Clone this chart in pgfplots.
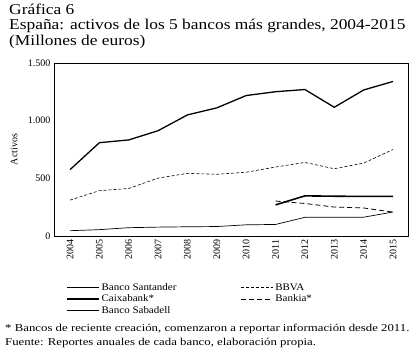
\documentclass[border=0pt]{standalone}
\usepackage{fontspec}
\setmainfont{Liberation Serif}
\usepackage{graphicx}
\usepackage{pgfplots}
\pgfplotsset{compat=1.18}
\newcommand{\legtxt}[1]{\scalebox{1.1}[1]{#1}}
\begin{document}
\begin{tikzpicture}[x=1pt,y=1pt]
\begin{axis}[
  name=ax,
  at={(0pt,0pt)}, anchor=south west,
  scale only axis,
  width=354pt, height=173pt,
  xmin=2003.455, xmax=2015.51,
  ymin=0, ymax=1500,
  xtick={2004,...,2015},
  ytick={0,500,1000,1500},
  tick style={draw=none},
  /pgf/number format/assume math mode=true,
  yticklabel style={/pgf/number format/.cd,1000 sep={.}},
  xticklabel style={rotate=90, anchor=east, /pgf/number format/.cd,1000 sep={}},
  tick label style={font=\fontsize{10}{12}\selectfont},
  ylabel={Activos},
  ylabel style={at={(axis description cs:-0.113,0.5)}, anchor=center, font=\fontsize{10}{12}\selectfont},
  axis line style={line width=0.8pt},
  legend columns=2,
  legend style={at={(axis description cs:0.025,-0.25)}, anchor=north west, draw=none, fill=none,
    font=\fontsize{10}{12}\selectfont, row sep=-1pt,
    /tikz/every even column/.append style={column sep=62pt}},
  legend cell align=left,
  legend image code/.code={\draw[#1] (0pt,0pt) -- (32pt,0pt);},
]
\addplot[black, line width=1.3pt] coordinates {
(2004,575) (2005,809) (2006,833) (2007,913) (2008,1050) (2009,1111)
(2010,1218) (2011,1251) (2012,1270) (2013,1116) (2014,1266) (2015,1340)};
\addlegendentry{\legtxt{Banco Santander}}
\addplot[black, line width=0.6pt, dash pattern=on 3pt off 2pt] coordinates {
(2004,311) (2005,393) (2006,412) (2007,502) (2008,543) (2009,535)
(2010,553) (2011,598) (2012,638) (2013,583) (2014,632) (2015,750)};
\addlegendentry{\legtxt{BBVA}}
\addplot[black, line width=1.6pt] coordinates {
(2011,270) (2012,348) (2013,345) (2014,343) (2015,344)};
\addlegendentry{\legtxt{Caixabank*}}
\addplot[black, line width=0.8pt, dash pattern=on 5pt off 3pt] coordinates {
(2011,303) (2012,282) (2013,251) (2014,243) (2015,207)};
\addlegendentry{\legtxt{Bankia*}}
\addplot[black, line width=0.7pt] coordinates {
(2004,46) (2005,55) (2006,72) (2007,77) (2008,80) (2009,82)
(2010,97) (2011,100) (2012,162) (2013,163) (2014,163) (2015,208)};
\addlegendentry{\legtxt{Banco Sabadell}}
\end{axis}
\node[anchor=north west, inner sep=0pt, font=\fontsize{15}{15.5}\selectfont] at (-45pt,233pt)
 {\scalebox{1.16}[1]{\begin{tabular}{@{}l@{}}Gráfica 6\\España: activos de los 5 bancos más grandes, 2004-2015\\(Millones de euros)\end{tabular}}};
\node[anchor=south west, inner sep=0pt, font=\fontsize{10.5}{14}\selectfont] at (-49pt,-114pt)
 {\scalebox{1.22}[1]{\begin{tabular}{@{}l@{}}* Bancos de reciente creación, comenzaron a reportar información desde 2011.\\Fuente: Reportes anuales de cada banco, elaboración propia.\end{tabular}}};
\pgfresetboundingbox
\path[use as bounding box] (-54pt,-117pt) rectangle (359pt,236pt);
\end{tikzpicture}
\end{document}
